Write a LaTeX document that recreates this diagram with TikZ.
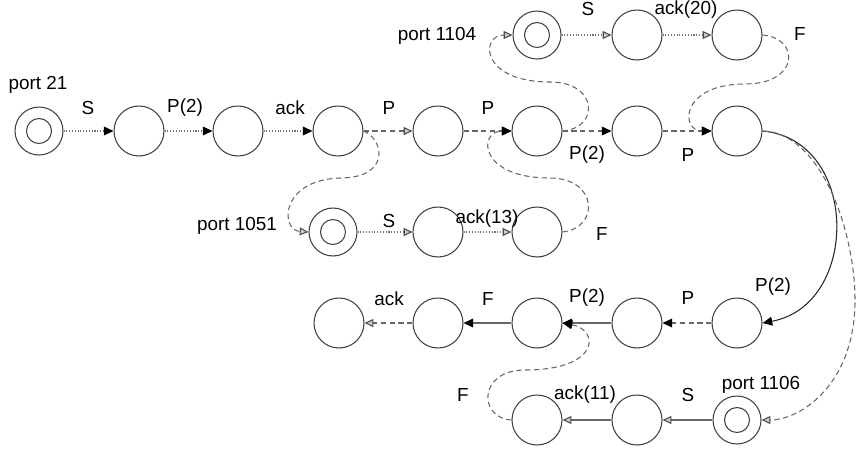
\documentclass[tikz,border=0pt]{standalone}
\usepackage{fontspec}
\setmainfont{Liberation Sans}
\usetikzlibrary{arrows.meta}

\begin{document}
\begin{tikzpicture}[
    x=0.02cm, y=-0.02cm,
    state/.style={circle, draw=black!75, line width=0.6pt, minimum size=1cm, inner sep=0pt},
    portstate/.style={state, minimum size=0.96cm,
        path picture={\draw[black!75, line width=0.6pt] (path picture bounding box.center) circle (0.25cm);}},
    lbl/.style={font=\fontsize{10.75}{12}\selectfont, inner sep=0pt},
    tip/.style={-{Triangle[length=5.5pt, width=5pt, color=black]}},
    greytip/.style={-{Triangle[length=5pt, width=4.5pt, color=black!70, fill=gray!40]}},
    dotflow/.style={densely dotted, black!55, line width=0.6pt},
    dashflow/.style={dash pattern=on 3pt off 2pt, black!60, line width=0.6pt},
    plainflow/.style={black!60, line width=0.6pt}
]
\useasboundingbox (0,0) rectangle (857,450);

% Main connection, first row
\node[portstate] (p21) at (39,131) {};
\node[state] (a1) at (139,131) {};
\node[state] (a2) at (238,131) {};
\node[state] (a3) at (338,131) {};
\node[state] (a4) at (438,131) {};
\node[state] (a5) at (537,131) {};
\node[state] (a6) at (637,131) {};
\node[state] (a7) at (737,131) {};

% Data connection on port 1104
\node[portstate] (p1104) at (537,35) {};
\node[state] (b1) at (637,35) {};
\node[state] (b2) at (737,35) {};

% Data connection on port 1051
\node[portstate] (p1051) at (333,232) {};
\node[state] (c1) at (438,232) {};
\node[state] (c2) at (537,232) {};

% Return row
\node[state] (d1) at (339,323) {};
\node[state] (d2) at (438,323) {};
\node[state] (d3) at (537,323) {};
\node[state] (d4) at (637,323) {};
\node[state] (d5) at (737,323) {};

% Data connection on port 1106
\node[state] (e1) at (537,420) {};
\node[state] (e2) at (637,420) {};
\node[portstate] (p1106) at (737,420) {};

% First row edges
\draw[dotflow, tip] (p21) -- (a1);
\draw[dotflow, tip] (a1) -- (a2);
\draw[dotflow, tip] (a2) -- (a3);
\draw[dashflow, greytip] (a3) -- (a4);
\draw[dashflow, tip] (a4) -- (a5);
\draw[dashflow, tip] (a5) -- (a6);
\draw[dashflow, tip] (a6) -- (a7);

% Port 1104 branch
\draw[dashflow, greytip] (a5.east) .. controls (600,128) and (598,82) .. (550,82)
    .. controls (480,82) and (480,35) .. (p1104.west);
\draw[dotflow, greytip] (p1104) -- (b1);
\draw[dotflow, greytip] (b1) -- (b2);
\draw[dashflow, tip] (b2.east) .. controls (800,38) and (800,84) .. (745,84)
    .. controls (680,84) and (680,131) .. (a7.west);

% Port 1051 branch
\draw[dashflow, greytip] (a3.east) .. controls (385,140) and (390,178) .. (340,178)
    .. controls (280,180) and (280,230) .. (p1051.west);
\draw[dotflow, greytip] (p1051) -- (c1);
\draw[dotflow, greytip] (c1) -- (c2);
\draw[dashflow, tip] (c2.east) .. controls (600,228) and (598,178) .. (550,178)
    .. controls (478,178) and (478,131) .. (a5.west);

% Down to the return row
\draw[black!85, line width=0.6pt, tip] (a7.east) .. controls (860,140) and (860,305) .. (d5.east);
\draw[dashflow, greytip] (a7.east) .. controls (820,132) and (855,230) .. (855,300)
    .. controls (855,385) and (800,420) .. (p1106.east);

% Return row edges
\draw[dashflow, tip] (d5) -- (d4);
\draw[plainflow, tip] (d4) -- (d3);
\draw[plainflow, tip] (d3) -- (d2);
\draw[dashflow, greytip] (d2) -- (d1);

% Port 1106 branch
\draw[plainflow, greytip] (p1106) -- (e2);
\draw[plainflow, greytip] (e2) -- (e1);
\draw[dashflow, tip] (e1.west) .. controls (478,418) and (478,370) .. (525,370)
    .. controls (600,370) and (600,330) .. (d3.east);

% Port labels
\node[lbl] (lp21) at (38,85) {port 21};
\node[lbl] (lp1104) at (437,36) {port 1104};
\node[lbl] (lp1051) at (237,226) {port 1051};
\node[lbl] (lp1106) at (761,385) {port 1106};

% Edge labels
\node[lbl] (t1) at (88,108) {S};
\node[lbl] (t2) at (185,108) {P(2)};
\node[lbl] (t3) at (290,108) {ack};
\node[lbl] (t4) at (389,108) {P};
\node[lbl] (t5) at (488,108) {P};
\node[lbl] (t6) at (587,155) {P(2)};
\node[lbl] (t7) at (688,155) {P};
\node[lbl] (t8) at (588,9) {S};
\node[lbl] (t9) at (686,10) {ack(20)};
\node[lbl] (t10) at (800,34) {F};
\node[lbl] (t11) at (389,221) {S};
\node[lbl] (t12) at (487,219) {ack(13)};
\node[lbl] (t13) at (602,234) {F};
\node[lbl] (t14) at (773,287) {P(2)};
\node[lbl] (t15) at (688,298) {P};
\node[lbl] (t16) at (587,298) {P(2)};
\node[lbl] (t17) at (488,299) {F};
\node[lbl] (t18) at (389,299) {ack};
\node[lbl] (t19) at (688,395) {S};
\node[lbl] (t20) at (585,395) {ack(11)};
\node[lbl] (t21) at (463,395) {F};

\end{tikzpicture}
\end{document}
